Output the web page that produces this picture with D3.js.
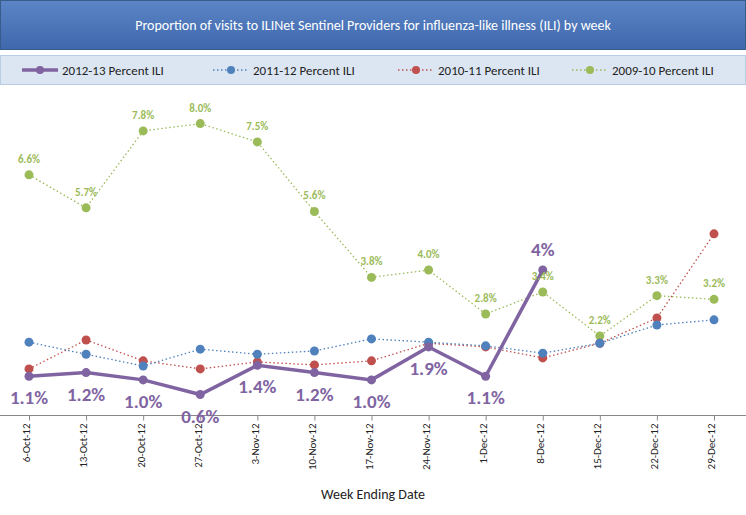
<!DOCTYPE html>
<html><head><meta charset="utf-8">
<script src="https://cdn.jsdelivr.net/npm/d3@7"></script>
<style>body{margin:0;background:#fff;font-family:Calibri,Carlito,"Liberation Sans",sans-serif}</style>
</head><body><svg id="c" width="746" height="515"></svg>
<script>
var weeks = ["6-Oct-12","13-Oct-12","20-Oct-12","27-Oct-12","3-Nov-12","10-Nov-12","17-Nov-12","24-Nov-12","1-Dec-12","8-Dec-12","15-Dec-12","22-Dec-12","29-Dec-12"];
var ili1213 = [1.1,1.2,1.0,0.6,1.4,1.2,1.0,1.9,1.1,4.0];
var ili1112 = [2.03,1.7,1.38,1.84,1.7,1.79,2.12,2.03,1.93,1.73,2.0,2.5,2.64];
var ili1011 = [1.3,2.09,1.52,1.3,1.49,1.41,1.52,2.0,1.9,1.6,2.0,2.69,4.99];
var ili0910 = [6.6,5.7,7.8,8.0,7.5,5.6,3.8,4.0,2.8,3.4,2.2,3.3,3.2];
var labels1213 = ["1.1%","1.2%","1.0%","0.6%","1.4%","1.2%","1.0%","1.9%","1.1%","4%"];

var svg = d3.select("#c");
var defs = svg.append("defs");
var g1 = defs.append("linearGradient").attr("id","tg").attr("x1",0).attr("y1",0).attr("x2",0).attr("y2",1);
g1.append("stop").attr("offset","0").attr("stop-color","#5b85c6");
g1.append("stop").attr("offset","1").attr("stop-color","#3f68ad");
svg.append("rect").attr("x",0.5).attr("y",0.5).attr("width",745).attr("height",49).attr("fill","url(#tg)").attr("stroke","#385d8a");
svg.append("text").attr("x",373).attr("y",30).attr("text-anchor","middle").attr("fill","#fff").attr("font-size",14)
  .text("Proportion of visits to ILINet Sentinel Providers for influenza-like illness (ILI) by week");
svg.append("rect").attr("x",0.5).attr("y",55.5).attr("width",745).attr("height",29).attr("fill","#dce6f2").attr("stroke","#b9cde5");

var series = [
  {name:"2012-13 Percent ILI", data:ili1213, color:"#8064a2", dash:null, w:3.5, r:4.5},
  {name:"2011-12 Percent ILI", data:ili1112, color:"#4f81bd", dash:"1.5,2.5", w:1.3, r:4.5},
  {name:"2010-11 Percent ILI", data:ili1011, color:"#c0504d", dash:"1.5,2.5", w:1.3, r:4.5},
  {name:"2009-10 Percent ILI", data:ili0910, color:"#9bbb59", dash:"1.5,2.5", w:1.3, r:4.5}
];
var lx = [22,213,398,572];
series.forEach(function(s,i){
  var lg = svg.append("g").attr("transform","translate("+lx[i]+",70)");
  lg.append("line").attr("x1",0).attr("x2",36).attr("stroke",s.color).attr("stroke-width",s.w).attr("stroke-dasharray",s.dash);
  lg.append("circle").attr("cx",18).attr("r",4).attr("fill",s.color);
  lg.append("text").attr("x",40).attr("y",5).attr("font-size",13).attr("fill","#222").text(s.name);
});

var x = d3.scalePoint().domain(weeks).range([29,714]);
var y = d3.scaleLinear().domain([0,9]).range([416.5,87]);

svg.append("line").attr("x1",0).attr("x2",746).attr("y1",415.5).attr("y2",415.5).attr("stroke","#888");
var xa = svg.append("g").attr("transform","translate(0,415.5)").call(d3.axisBottom(x).tickSize(5).tickSizeOuter(0));
xa.select(".domain").remove();
xa.selectAll("line").attr("stroke","#888");
xa.selectAll("text").attr("font-size",11).attr("fill","#222").attr("font-family","Calibri,Carlito,'Liberation Sans',sans-serif")
  .attr("transform","rotate(-90)").attr("text-anchor","end").attr("x",-8).attr("y",-3).attr("dy","0.35em");
svg.append("text").attr("x",373).attr("y",499).attr("text-anchor","middle").attr("font-size",14).attr("fill","#222").text("Week Ending Date");

series.slice().reverse().forEach(function(s){
  var pts = s.data.map(function(v,i){return [x(weeks[i]), y(v)];});
  svg.append("path").attr("d",d3.line()(pts)).attr("fill","none").attr("stroke",s.color)
    .attr("stroke-width",s.w).attr("stroke-dasharray",s.dash);
  svg.selectAll(null).data(pts).enter().append("circle").attr("cx",function(d){return d[0];}).attr("cy",function(d){return d[1];})
    .attr("r",s.r).attr("fill",s.color);
});

svg.selectAll(null).data(ili0910).enter().append("text")
  .attr("x",function(d,i){return x(weeks[i]);}).attr("y",function(d){return y(d)-12;})
  .attr("text-anchor","middle").attr("font-size",11).attr("font-weight","bold").attr("fill","#9bbb59")
  .text(function(d){return d.toFixed(1)+"%";});

svg.selectAll(null).data(ili1213).enter().append("text")
  .attr("x",function(d,i){return x(weeks[i]);})
  .attr("y",function(d,i){return i==9 ? y(d)-14 : y(d)+28;})
  .attr("text-anchor","middle").attr("font-size",19).attr("font-weight","bold").attr("fill","#8064a2")
  .text(function(d,i){return labels1213[i];});
</script></body></html>
